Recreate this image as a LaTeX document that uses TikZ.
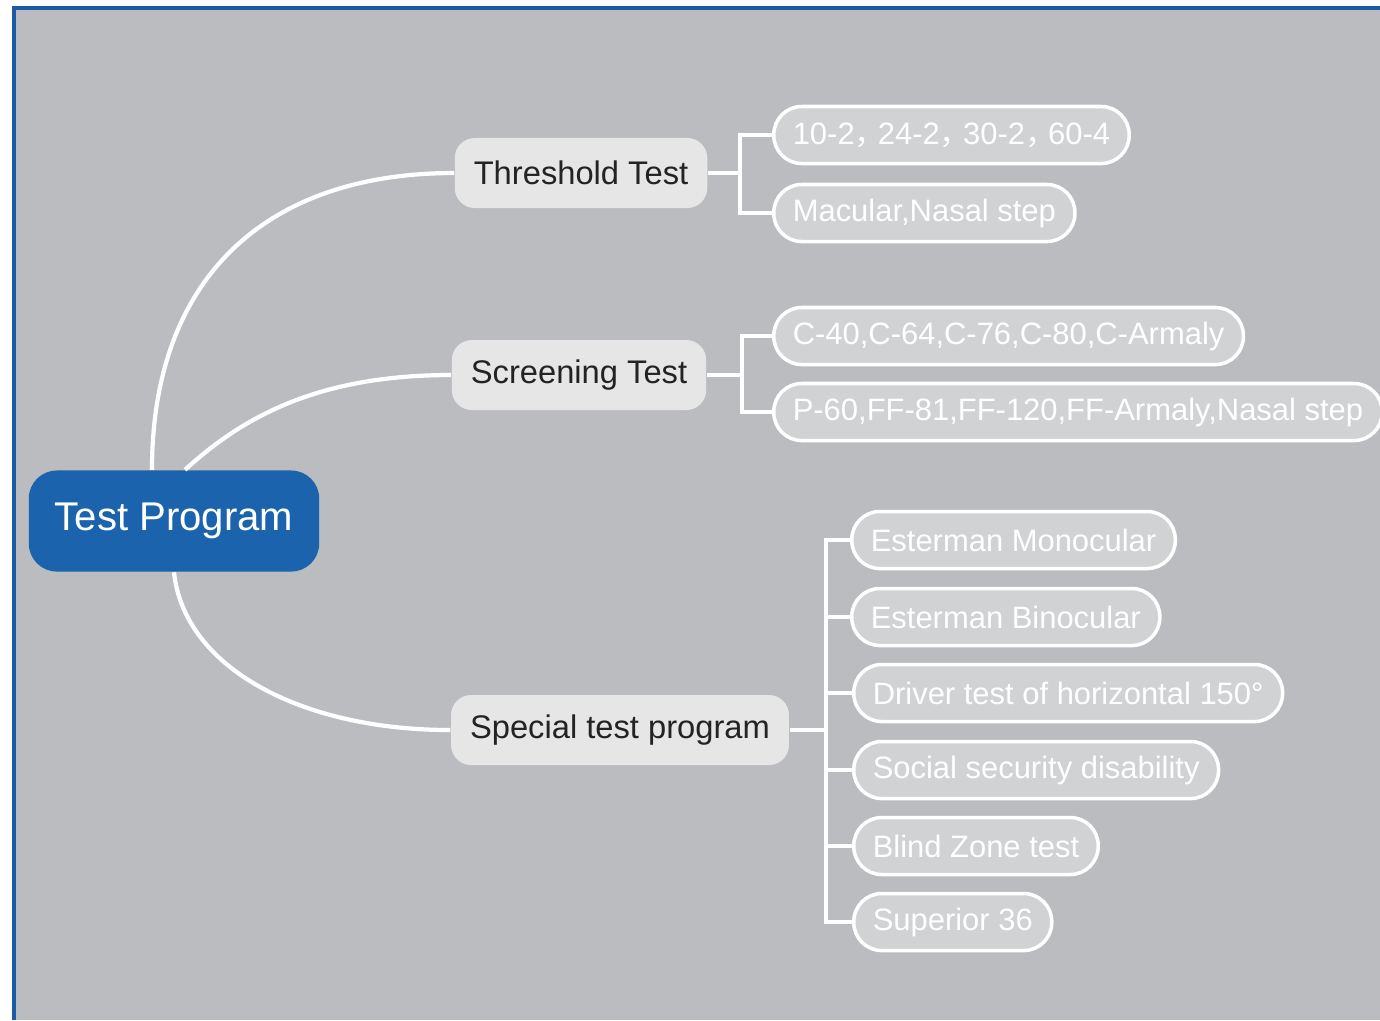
\documentclass[tikz,border=0pt]{standalone}
\usepackage{fontspec}
\setmainfont{Liberation Sans}
\newfontfamily\cjk{Noto Sans CJK SC}
\definecolor{panel}{RGB}{187,188,192}
\definecolor{frameblue}{RGB}{28,90,166}
\definecolor{rootblue}{RGB}{27,99,172}
\definecolor{midgray}{RGB}{230,230,231}
\definecolor{leafgray}{RGB}{209,210,212}
\definecolor{ink}{RGB}{35,35,35}
\newcommand\wcomma{{\cjk ，}\kern-0.25em}

\begin{document}
\begin{tikzpicture}[x=0.01cm,y=-0.01cm,
  root/.style={rounded corners=0.28cm,fill=rootblue,text=white,font=\fontsize{11.4}{13}\selectfont,minimum height=1.01cm,inner xsep=0.26cm},
  topic/.style={rounded corners=0.2cm,fill=midgray,text=ink,font=\fontsize{9.3}{11}\selectfont,minimum height=0.7cm,inner xsep=0.19cm},
  leaf/.style={rounded corners=0.28cm,draw=white,line width=1pt,fill=leafgray,text=white,font=\fontsize{8.8}{11}\selectfont,minimum height=0.57cm,inner xsep=0.19cm,anchor=west},
  branch/.style={draw=white,line width=1.2pt}]
  \useasboundingbox (0,0) rectangle (1380,1020);
  \fill[panel] (14,8) rectangle (1380,1020);
  \draw[frameblue,line width=1.4pt] (14,1020) -- (14,8) -- (1380,8);

  \node[root] (prog) at (174,521) {Test Program};
  \node[topic] (thr) at (581,173) {Threshold Test};
  \node[topic] (scr) at (579,375) {Screening Test};
  \node[topic] (spe) at (620,730) {Special test program};

  \node[leaf] (t1) at (772,135) {10-2\wcomma 24-2\wcomma 30-2\wcomma 60-4};
  \node[leaf] (t2) at (772,213) {Macular,Nasal step};
  \node[leaf] (s1) at (772,336) {C-40,C-64,C-76,C-80,C-Armaly};
  \node[leaf] (s2) at (772,412) {P-60,FF-81,FF-120,FF-Armaly,Nasal step};
  \node[leaf] (p1) at (850,540) {Esterman Monocular};
  \node[leaf] (p2) at (850,617) {Esterman Binocular};
  \node[leaf] (p3) at (852,693) {Driver test of horizontal 150°};
  \node[leaf] (p4) at (852,770) {Social security disability};
  \node[leaf] (p5) at (852,846) {Blind Zone test};
  \node[leaf] (p6) at (852,922) {Superior 36};

  % root to the three topics
  \draw[branch] ([xshift=-0.22cm]prog.north) .. controls +(0,-190) and +(-190,0) .. (thr.west);
  \draw[branch] ([xshift=0.11cm]prog.north) .. controls +(60,-55) and +(-130,0) .. (scr.west);
  \draw[branch] (prog.south) .. controls +(10,95) and +(-150,0) .. (spe.west);

  % topics to leaves
  \coordinate (thrj) at ([xshift=0.32cm]thr.east);
  \coordinate (scrj) at ([xshift=0.35cm]scr.east);
  \coordinate (spej) at ([xshift=0.36cm]spe.east);
  \draw[branch] (thr.east) -- (thrj);
  \draw[branch] (scr.east) -- (scrj);
  \draw[branch] (spe.east) -- (spej);
  \foreach \l in {t1,t2} \draw[branch] (\l.west) -| (thrj);
  \foreach \l in {s1,s2} \draw[branch] (\l.west) -| (scrj);
  \foreach \l in {p1,p2,p3,p4,p5,p6} \draw[branch] (\l.west) -| (spej);
\end{tikzpicture}
\end{document}
